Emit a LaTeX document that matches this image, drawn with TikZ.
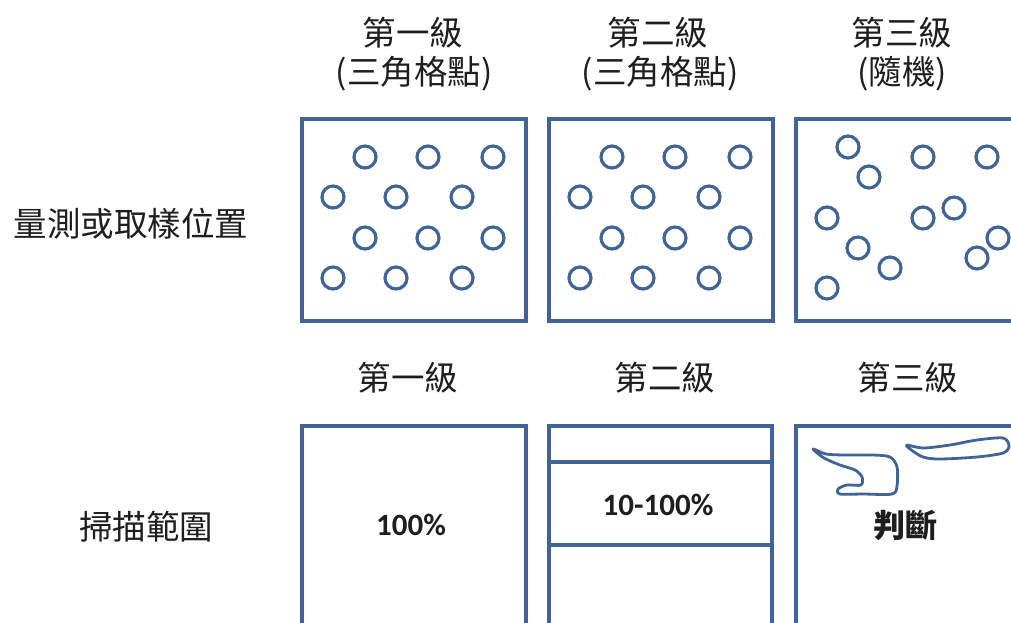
\documentclass[tikz,border=0pt]{standalone}
\usepackage{fontspec}
\setmainfont{Carlito}
\newfontfamily\cjk{Noto Sans CJK TC}
\definecolor{boxblue}{RGB}{64,100,150}
\definecolor{ink}{RGB}{30,30,30}
\begin{document}
\begin{tikzpicture}[x=1pt,y=-1pt,
  frame/.style={draw=boxblue, line width=3.6pt, inner sep=0pt, anchor=north west},
  ring/.style={draw=boxblue, line width=3.2pt},
  head/.style={font=\cjk\fontsize{33.5}{38}\selectfont, text=ink, inner sep=0pt},
  pct/.style={font=\bfseries\fontsize{31}{36}\selectfont, text=ink, inner sep=0pt},
  squiggle/.style={draw=boxblue, line width=2.8pt, line join=round}]
\useasboundingbox (0,0) rectangle (1011,622);
\clip (0,0) rectangle (1011,622);

% column headers
\node[head] (h1a) at (413,33) {第一級};
\node[head] (h1b) at (414,74) {(三角格點)};
\node[head] (h2a) at (658,33) {第二級};
\node[head] (h2b) at (660,74) {(三角格點)};
\node[head] (h3a) at (902,33) {第三級};
\node[head] (h3b) at (902,74) {(隨機)};

% row labels
\node[head] (r1) at (131,224) {量測或取樣位置};
\node[head] (r2) at (146,527) {掃描範圍};

% top boxes
\node[frame, minimum width=224pt, minimum height=202pt] (m1) at (300,117) {};
\node[frame, minimum width=224pt, minimum height=202pt] (m2) at (547,117) {};
\node[frame, minimum width=260pt, minimum height=202pt] (m3) at (794,117) {};

% triangular grids
\foreach \dx in {0,247}{
  \foreach \x/\y in {365/157,428/157,493/157,333/197,396/197,462/197,365/238,428/238,493/238,333/278,396/278,462/278}{
    \draw[ring] (\x+\dx,\y) circle[radius=11];
  }
}
% random
\foreach \x/\y in {848/147,869/177,923/157,987/157,827/218,923/218,954/208,858/248,890/268,998/238,977/258,827/288}{
  \draw[ring] (\x,\y) circle[radius=11];
}

% second row headers
\node[head] (s1) at (408,378) {第一級};
\node[head] (s2) at (665,378) {第二級};
\node[head] (s3) at (908,378) {第三級};

% bottom boxes
\node[frame, minimum width=224pt, minimum height=240pt] (b1) at (300,424) {};
\node[frame, minimum width=223pt, minimum height=240pt] (b2) at (547,424) {};
\node[frame, minimum width=260pt, minimum height=240pt] (b3) at (794,424) {};
\draw[draw=boxblue, line width=3.6pt] (b2.west |- 0,462) -- (b2.east |- 0,462);
\draw[draw=boxblue, line width=3.6pt] (b2.west |- 0,545) -- (b2.east |- 0,545);

\node[pct] (p1) at (411,525) {100\%};
\node[pct] (p2) at (658,505) {10-100\%};
\node[head, font=\cjk\bfseries\fontsize{32}{36}\selectfont] (p3) at (905,525) {判斷};

% hand-drawn outlines
\draw[squiggle] plot[smooth cycle, tension=0.5] coordinates {
  (813,449) (826,454) (845,455) (873,455) (890,457) (897,467) (897,486)
  (892,494) (863,494) (840,494) (838,489) (847,485) (861,485) (862,477)
  (855,470) (840,465) (824,458)};
\draw[squiggle] plot[smooth cycle, tension=0.5] coordinates {
  (907,445) (923,448) (950,445) (977,440) (1003,438) (1009,446)
  (1003,453) (977,457) (940,459) (923,457) (910,449)};
\end{tikzpicture}
\end{document}
